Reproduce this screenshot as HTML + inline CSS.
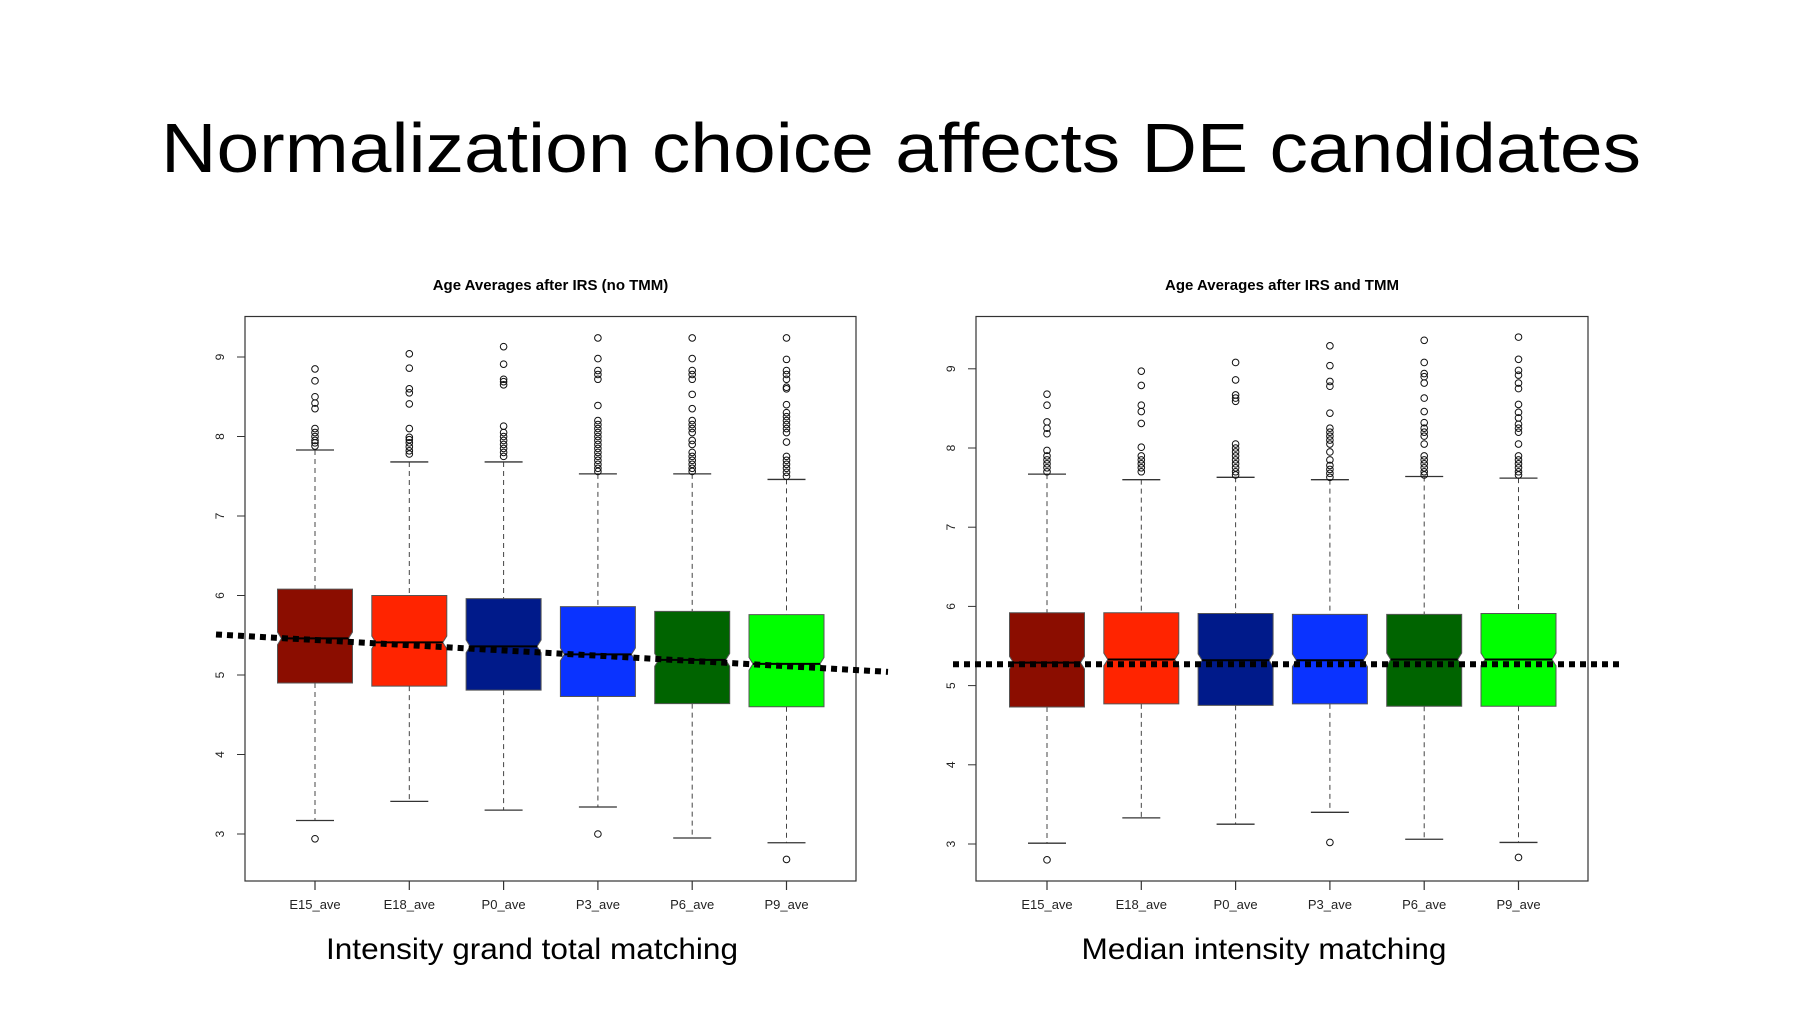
<!DOCTYPE html>
<html><head><meta charset="utf-8"><style>
html,body{margin:0;padding:0;background:#fff;}
svg{display:block;}
</style></head><body>
<svg id="s" width="1801" height="1013" viewBox="0 0 1801 1013" xmlns="http://www.w3.org/2000/svg">
<rect width="1801" height="1013" fill="#fff"/>
<text x="901" y="172" text-anchor="middle" font-family="Liberation Sans, sans-serif" font-size="70" textLength="1480" lengthAdjust="spacingAndGlyphs">Normalization choice affects DE candidates</text>
<text x="532" y="959" text-anchor="middle" font-family="Liberation Sans, sans-serif" font-size="30" textLength="412" lengthAdjust="spacingAndGlyphs">Intensity grand total matching</text>
<text x="1264" y="959" text-anchor="middle" font-family="Liberation Sans, sans-serif" font-size="30" textLength="365" lengthAdjust="spacingAndGlyphs">Median intensity matching</text>
<g id="g1"></g>
<g id="g2"></g>
</svg>
<script>
const categories = ["E15_ave","E18_ave","P0_ave","P3_ave","P6_ave","P9_ave"];
const colors = ["#8B0D00","#FF2400","#001A8A","#0A33FF","#006400","#00FF00"];
const yTicks = [3,4,5,6,7,8,9];
// Left chart data
const leftQ1 = [4.90,4.86,4.81,4.73,4.64,4.60];
const leftQ3 = [6.08,6.00,5.96,5.86,5.80,5.76];
const leftMed = [5.46,5.41,5.36,5.26,5.19,5.14];
const leftLo = [3.17,3.41,3.30,3.34,2.95,2.89];
const leftHi = [7.83,7.68,7.68,7.53,7.53,7.46];
const leftOut = [
 [2.94,7.88,7.92,7.95,8.0,8.05,8.1,8.35,8.42,8.5,8.7,8.85],
 [7.78,7.82,7.87,7.92,7.96,7.99,8.1,8.41,8.55,8.6,8.86,9.04],
 [7.75,7.8,7.85,7.9,7.95,8.0,8.05,8.13,8.65,8.69,8.72,8.91,9.13],
 [3.0,7.56,7.6,7.65,7.7,7.75,7.8,7.85,7.9,7.95,8.0,8.05,8.1,8.15,8.2,8.39,8.72,8.78,8.83,8.98,9.24],
 [7.56,7.6,7.65,7.7,7.75,7.8,7.9,7.95,8.05,8.1,8.15,8.2,8.35,8.53,8.72,8.78,8.83,8.98,9.24],
 [2.68,7.5,7.55,7.6,7.65,7.7,7.75,7.93,8.05,8.1,8.15,8.2,8.25,8.3,8.4,8.6,8.62,8.72,8.78,8.83,8.97,9.24]
];
const leftTrend = [5.51,5.04];
// Right chart data
const rightQ1 = [4.73,4.77,4.75,4.77,4.74,4.74];
const rightQ3 = [5.92,5.92,5.91,5.90,5.90,5.91];
const rightMed = [5.29,5.33,5.32,5.32,5.33,5.33];
const rightLo = [3.01,3.33,3.25,3.40,3.06,3.02];
const rightHi = [7.67,7.60,7.63,7.60,7.64,7.62];
const rightOut = [
 [2.80,7.7,7.75,7.8,7.85,7.9,7.97,8.18,8.25,8.33,8.54,8.68],
 [7.7,7.75,7.8,7.85,7.9,8.01,8.31,8.46,8.54,8.79,8.97],
 [7.66,7.7,7.75,7.8,7.85,7.9,7.95,8.0,8.05,8.59,8.63,8.67,8.86,9.08],
 [3.02,7.63,7.68,7.73,7.78,7.85,7.95,8.05,8.1,8.15,8.2,8.25,8.44,8.78,8.84,9.04,9.29],
 [7.66,7.7,7.75,7.8,7.85,7.9,8.05,8.15,8.2,8.25,8.32,8.46,8.63,8.82,8.9,8.94,9.08,9.36],
 [2.83,7.66,7.7,7.75,7.8,7.85,7.9,8.05,8.2,8.25,8.3,8.38,8.45,8.55,8.75,8.82,8.92,8.98,9.12,9.40]
];
const rightTrend = [5.27,5.27];

const NS="http://www.w3.org/2000/svg";
function mk(parent,tag,attrs){const e=document.createElementNS(NS,tag);for(const k in attrs)e.setAttribute(k,attrs[k]);parent.appendChild(e);return e;}

function draw(g,cfg){
  const L=cfg.left,R=cfg.right,T=316.5,B=881;
  const yv=v=>cfg.y3-(v-3)*cfg.unit;
  const xc=i=>cfg.x0+i*cfg.dx;
  const bw=75, half=bw/2, inset=4, nh=0.08;
  const ttl=mk(g,'text',{x:(L+R)/2,y:290,'text-anchor':'middle','font-family':'Liberation Sans, sans-serif','font-size':15,'font-weight':'bold'});
  ttl.textContent=cfg.title;
  
  
  const frame=mk(g,'rect',{x:L,y:T,width:R-L,height:B-T,fill:'none',stroke:'#333','stroke-width':1.2});
  
  
  yTicks.forEach(t=>{
    const y=yv(t);
    const tk=mk(g,'line',{x1:L-8,x2:L,y1:y,y2:y,stroke:'#333','stroke-width':1});
    
    
    const lb=mk(g,'text',{x:0,y:0,transform:`translate(${L-24},${y}) rotate(-90)`,'text-anchor':'middle','dominant-baseline':'middle','font-family':'Liberation Sans, sans-serif','font-size':12,fill:'#222'});
    lb.textContent=t;
    
    
  });
  categories.forEach((c,i)=>{
    const x=xc(i);
    const tk=mk(g,'line',{x1:x,x2:x,y1:B,y2:B+9,stroke:'#333','stroke-width':1.2});
    
    
    const lb=mk(g,'text',{x:x,y:909,'text-anchor':'middle','font-family':'Liberation Sans, sans-serif','font-size':13,fill:'#222'});
    lb.textContent=c;
    
    
    const q1=yv(cfg.q1[i]),q3=yv(cfg.q3[i]),md=yv(cfg.med[i]),lo=yv(cfg.lo[i]),hi=yv(cfg.hi[i]);
    const w1=mk(g,'line',{x1:x,x2:x,y1:hi,y2:q3,stroke:'#444','stroke-width':1,'stroke-dasharray':'5 4'});
    
    
    const w2=mk(g,'line',{x1:x,x2:x,y1:q1,y2:lo,stroke:'#444','stroke-width':1,'stroke-dasharray':'5 4'});
    
    
    [hi,lo].forEach(yy=>{
      const cap=mk(g,'line',{x1:x-19,x2:x+19,y1:yy,y2:yy,stroke:'#333','stroke-width':1.3});
      
      
    });
    const nt=yv(cfg.med[i]+nh), nb=yv(cfg.med[i]-nh);
    const pts=[[x-half,q3],[x+half,q3],[x+half,nt],[x+half-inset,md],[x+half,nb],[x+half,q1],[x-half,q1],[x-half,nb],[x-half+inset,md],[x-half,nt]];
    const bx=mk(g,'polygon',{points:pts.map(p=>p.join(',')).join(' '),fill:colors[i],stroke:'#555','stroke-width':1});
    
    
    const ml=mk(g,'line',{x1:x-half+inset,x2:x+half-inset,y1:md,y2:md,stroke:'#000','stroke-width':2});
    
    
    cfg.out[i].forEach(v=>{
      const o=mk(g,'circle',{cx:x,cy:yv(v),r:3.3,fill:'none',stroke:'#111','stroke-width':1});
      
      
    });
  });
  const tr=mk(g,'line',{x1:cfg.tx[0],x2:cfg.tx[1],y1:yv(cfg.trend[0]),y2:yv(cfg.trend[1]),stroke:'#000','stroke-width':6,'stroke-dasharray':'6 5'});
  
  
}
draw(document.getElementById('g1'),{left:245,right:856,y3:834,unit:79.5,x0:315,dx:94.3,title:'Age Averages after IRS (no TMM)',q1:leftQ1,q3:leftQ3,med:leftMed,lo:leftLo,hi:leftHi,out:leftOut,trend:leftTrend,tx:[216,888]});
draw(document.getElementById('g2'),{left:976,right:1588,y3:844,unit:79.2,x0:1047,dx:94.3,title:'Age Averages after IRS and TMM',q1:rightQ1,q3:rightQ3,med:rightMed,lo:rightLo,hi:rightHi,out:rightOut,trend:rightTrend,tx:[953,1621]});
</script>
</body></html>
